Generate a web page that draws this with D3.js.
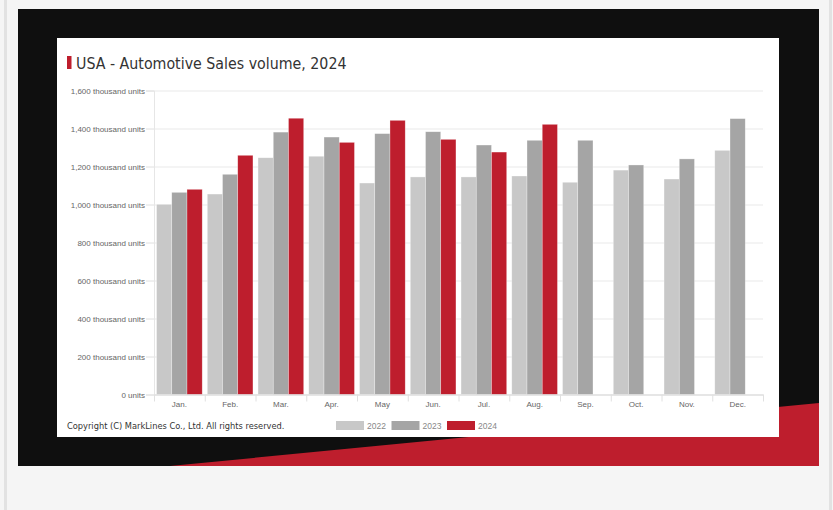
<!DOCTYPE html>
<html>
<head>
<meta charset="utf-8">
<script src="https://cdn.jsdelivr.net/npm/d3@7"></script>
<style>
	html, body { margin: 0; padding: 0; background: #f5f5f5; }
	svg { display: block; }
</style>
</head>
<body>
<div id="chart"></div>
<script>
const months = ["Jan.", "Feb.", "Mar.", "Apr.", "May", "Jun.", "Jul.", "Aug.", "Sep.", "Oct.", "Nov.", "Dec."];
const seriesNames = ["2022", "2023", "2024"];
// thousand units
const sales2022 = [1001, 1055, 1246, 1254, 1113, 1145, 1145, 1150, 1117, 1181, 1134, 1285];
const sales2023 = [1064, 1159, 1381, 1355, 1373, 1383, 1313, 1338, 1338, 1208, 1240, 1452];
const sales2024 = [1080, 1259, 1454, 1327, 1443, 1343, 1276, 1422];
const yTicks = [0, 200, 400, 600, 800, 1000, 1200, 1400, 1600];

(function() {
	const W = 833, H = 510;
	const colors = { "2022": "#c8c8c8", "2023": "#a5a5a5", "2024": "#be1e2d" };
	const labelColor = "#666";

	const svg = d3.select("#chart").append("svg")
		.attr("width", W)
		.attr("height", H);

	// page frame
	svg.append("rect").attr("width", W).attr("height", H).attr("fill", "#f5f5f5");
	svg.append("rect").attr("x", 4).attr("y", 0).attr("width", 3).attr("height", H).attr("fill", "#e2e2e2");
	svg.append("rect").attr("x", 829).attr("y", 0).attr("width", 3).attr("height", H).attr("fill", "#e2e2e2");

	// dark banner + red wedge
	svg.append("rect")
		.attr("x", 18).attr("y", 9).attr("width", 801).attr("height", 457)
		.attr("fill", "#0f0f0f");
	svg.append("polygon")
		.attr("points", "170,466 819,403 819,466")
		.attr("fill", "#be1e2d");

	// white chart panel
	svg.append("rect")
		.attr("x", 57).attr("y", 38).attr("width", 722).attr("height", 399)
		.attr("fill", "#fff");

	// title
	svg.append("rect").attr("x", 67).attr("y", 56).attr("width", 4.5).attr("height", 13).attr("fill", "#be1e2d");
	svg.append("text")
		.attr("x", 76).attr("y", 69)
		.attr("font-family", "'DejaVu Sans Condensed', 'DejaVu Sans', sans-serif")
		.attr("font-size", 15.8)
		.attr("fill", "#333")
		.text("USA - Automotive Sales volume, 2024");

	// scales
	const plot = { left: 154, right: 763, top: 90.5, bottom: 394.5 };
	const x = d3.scaleBand().domain(months).range([plot.left, plot.right]).padding(0);
	const x1 = d3.scaleBand().domain(seriesNames)
		.range([x.bandwidth() * 0.05, x.bandwidth() * 0.95]).padding(0);
	const y = d3.scaleLinear().domain([0, 1600]).range([plot.bottom, plot.top]);

	// grid
	svg.append("g")
		.attr("transform", `translate(${plot.left},0)`)
		.call(d3.axisLeft(y).tickValues(yTicks).tickSize(-(plot.right - plot.left)).tickFormat(""))
		.call(g => g.select(".domain").remove())
		.call(g => g.selectAll("line").attr("stroke", "#e9e9e9"));

	// y axis
	svg.append("g")
		.attr("transform", `translate(${plot.left},0)`)
		.call(d3.axisLeft(y).tickValues(yTicks).tickSize(8).tickPadding(1)
			.tickFormat(d => d === 0 ? "0 units" : d3.format(",")(d) + " thousand units"))
		.call(g => g.select(".domain").attr("stroke", "#e6e6e6"))
		.call(g => g.selectAll("line").attr("stroke", "#e0e0e0"))
		.call(g => g.selectAll("text")
			.attr("fill", labelColor)
			.attr("font-family", "'Liberation Sans', Arial, sans-serif")
			.attr("font-size", 8));

	// bars
	const rows = months.map((m, i) => ({
		month: m,
		values: [
			{ key: "2022", value: sales2022[i] },
			{ key: "2023", value: sales2023[i] },
			{ key: "2024", value: sales2024[i] }
		].filter(d => d.value != null)
	}));

	svg.append("g")
		.selectAll("g")
		.data(rows)
		.join("g")
		.attr("transform", d => `translate(${x(d.month)},0)`)
		.selectAll("rect")
		.data(d => d.values)
		.join("rect")
		.attr("x", d => x1(d.key))
		.attr("y", d => y(d.value))
		.attr("width", x1.bandwidth())
		.attr("height", d => y(0) - y(d.value))
		.attr("fill", d => colors[d.key])
		.attr("stroke", "#fff")
		.attr("stroke-opacity", 0.5)
		.attr("stroke-width", 0.6);

	// x axis
	const xAxis = svg.append("g")
		.attr("transform", `translate(0,${plot.bottom})`)
		.call(d3.axisBottom(x).tickSize(0).tickPadding(7))
		.call(g => g.select(".domain").attr("stroke", "#d8d8d8"))
		.call(g => g.selectAll("text")
			.attr("fill", labelColor)
			.attr("font-family", "'Liberation Sans', Arial, sans-serif")
			.attr("font-size", 8));
	xAxis.selectAll(".bound")
		.data(months.map(m => x(m)).concat([plot.right]))
		.join("line")
		.attr("class", "bound")
		.attr("x1", d => d + 0.5).attr("x2", d => d + 0.5)
		.attr("y1", 0).attr("y2", 7)
		.attr("stroke", "#e0e0e0");

	// copyright
	svg.append("text")
		.attr("x", 67).attr("y", 429)
		.attr("font-family", "'DejaVu Sans Condensed', 'DejaVu Sans', sans-serif")
		.attr("font-size", 9.2)
		.attr("fill", "#333")
		.text("Copyright (C) MarkLines Co., Ltd. All rights reserved.");

	// legend
	const legend = svg.append("g")
		.selectAll("g")
		.data(seriesNames)
		.join("g")
		.attr("transform", (d, i) => `translate(${336 + i * 55.5},421)`);
	legend.append("rect")
		.attr("width", 28).attr("height", 9)
		.attr("fill", d => colors[d]);
	legend.append("text")
		.attr("x", 31).attr("y", 7.8)
		.attr("font-family", "'Liberation Sans', Arial, sans-serif")
		.attr("font-size", 8.5)
		.attr("fill", "#888")
		.text(d => d);
})();
</script>
</body>
</html>
